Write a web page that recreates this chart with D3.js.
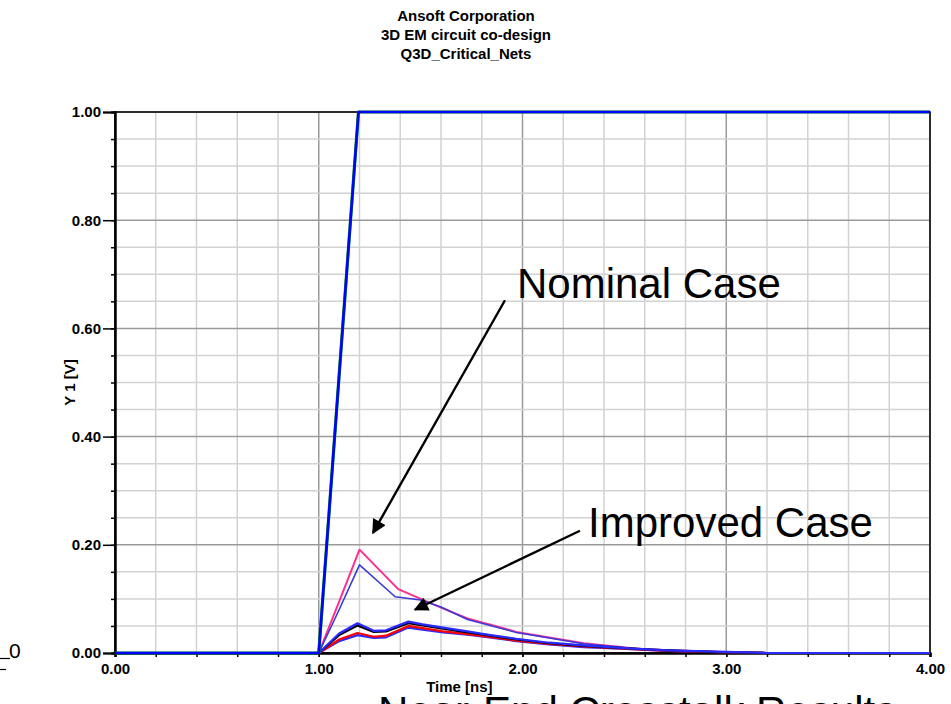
<!DOCTYPE html>
<html>
<head>
<meta charset="utf-8">
<script src="https://cdn.jsdelivr.net/npm/d3@7"></script>
<style>
  body { margin: 0; background: #fff; }
  svg { display: block; }
  .bold { font-family: "Liberation Sans Narrow", "Arial Narrow", "Liberation Sans", Arial, sans-serif; font-weight: bold; }
</style>
</head>
<body>
<svg id="chart" width="951" height="704"></svg>
<script>
// title lines
const titleLines = ["Ansoft Corporation", "3D EM circuit co-design", "Q3D_Critical_Nets"];

// axis ticks
const xTicks = [0, 1, 2, 3, 4];
const yTicks = [0, 0.2, 0.4, 0.6, 0.8, 1.0];

// input step (blue, with green trace under it)
const inputT = [0, 1.0, 1.195, 4.0];
const inputV = [0, 0, 1.0, 1.0];

// nominal case
const nomPinkT = [0, 1.0, 1.1, 1.2, 1.39, 1.6, 1.73, 1.97, 2.3, 2.59, 2.9, 3.2, 4.0];
const nomPinkV = [0, 0, 0.095, 0.191, 0.118, 0.084, 0.064, 0.039, 0.018, 0.007, 0.003, 0, 0];
const nomBlueT = [0, 1.0, 1.1, 1.2, 1.375, 1.5, 1.6, 1.73, 1.97, 2.3, 2.59, 2.9, 3.05, 4.0];
const nomBlueV = [0, 0, 0.08, 0.163, 0.104, 0.098, 0.085, 0.062, 0.038, 0.017, 0.007, 0.002, 0, 0];

// improved case
const impT = [0, 1.0, 1.1, 1.19, 1.27, 1.33, 1.44, 1.51, 1.61, 1.73, 1.81, 1.97, 2.13, 2.3, 2.54, 2.71, 3.0, 3.2, 4.0];
const impBlueHiV = [0, 0, 0.036, 0.055, 0.041, 0.042, 0.058, 0.053, 0.047, 0.040, 0.035, 0.026, 0.019, 0.014, 0.008, 0.005, 0.002, 0, 0];
const impBlackV  = [0, 0, 0.033, 0.051, 0.039, 0.040, 0.055, 0.051, 0.045, 0.038, 0.034, 0.025, 0.018, 0.013, 0.008, 0.005, 0.001, 0, 0];
const impRedV    = [0, 0, 0.025, 0.037, 0.030, 0.032, 0.050, 0.046, 0.040, 0.035, 0.031, 0.023, 0.017, 0.012, 0.007, 0.004, 0.001, 0, 0];
const impBlueLoV = [0, 0, 0.022, 0.033, 0.028, 0.029, 0.047, 0.043, 0.038, 0.034, 0.030, 0.022, 0.016, 0.011, 0.007, 0.004, 0.001, 0, 0];

// annotations (in data units)
const notes = [
  { text: "Nominal Case", t: 1.973, v: 0.657, from: [1.914, 0.652], to: [1.266, 0.222] },
  { text: "Improved Case", t: 2.322, v: 0.215, from: [2.282, 0.226], to: [1.472, 0.080] }
];

const svg = d3.select("#chart");
const pLeft = 115, pRight = 930, pTop = 112, pBottom = 653;

const x = d3.scaleLinear().domain([0, 4]).range([pLeft, pRight]);
const y = d3.scaleLinear().domain([0, 1]).range([pBottom, pTop]);

// title
svg.append("g").selectAll("text")
  .data(titleLines)
  .enter().append("text")
  .attr("class", "bold")
  .attr("x", 466)
  .attr("y", (d, i) => 21 + i * 19)
  .attr("text-anchor", "middle")
  .style("font-size", "15px")
  .text(d => d);

// grid
const minorX = d3.range(0, 4.001, 0.2);
const minorY = d3.range(0, 1.001, 0.05);
const grid = svg.append("g");
grid.selectAll(".vx")
  .data(minorX)
  .enter().append("line")
  .attr("x1", d => x(d)).attr("x2", d => x(d))
  .attr("y1", pTop).attr("y2", pBottom)
  .attr("stroke", d => Math.abs(d - Math.round(d)) < 1e-6 ? "#9a9a9a" : "#d2d2d2")
  .attr("stroke-width", 1.5);
grid.selectAll(".hy")
  .data(minorY)
  .enter().append("line")
  .attr("x1", pLeft).attr("x2", pRight)
  .attr("y1", d => y(d)).attr("y2", d => y(d))
  .attr("stroke", d => Math.abs(d * 5 - Math.round(d * 5)) < 1e-6 ? "#9a9a9a" : "#d2d2d2")
  .attr("stroke-width", 1.5);

// frame
svg.append("rect")
  .attr("x", pLeft).attr("y", pTop)
  .attr("width", pRight - pLeft).attr("height", pBottom - pTop)
  .attr("fill", "none").attr("stroke", "#000").attr("stroke-width", 1.5);

// axes
const yAxis = d3.axisLeft(y).tickValues(yTicks).tickFormat(d3.format(".2f")).tickSize(12).tickPadding(2);
const yMinor = d3.axisLeft(y).tickValues(minorY).tickFormat("").tickSize(4);
const xAxis = d3.axisBottom(x).tickValues(xTicks).tickFormat(d3.format(".2f")).tickSize(4).tickPadding(6);
const xMinor = d3.axisBottom(x).tickValues(minorX).tickFormat("").tickSize(4);

function styleAxis(g) {
  g.select(".domain").attr("stroke", "#000").attr("stroke-width", 2);
  g.selectAll(".tick line").attr("stroke", "#000").attr("stroke-width", 1.5);
  g.selectAll(".tick text").attr("class", "bold").style("font-size", "15px").attr("fill", "#000");
}
svg.append("g").attr("transform", `translate(${pLeft},0)`).call(yMinor).call(styleAxis);
svg.append("g").attr("transform", `translate(${pLeft},0)`).call(yAxis).call(styleAxis);
svg.append("g").attr("transform", `translate(0,${pBottom})`).call(xMinor).call(styleAxis);
svg.append("g").attr("transform", `translate(0,${pBottom})`).call(xAxis).call(styleAxis);

// axis titles
svg.append("text")
  .attr("class", "bold")
  .attr("transform", `translate(75,${(pTop + pBottom) / 2}) rotate(-90)`)
  .attr("text-anchor", "middle")
  .style("font-size", "15px")
  .text("Y 1  [V]");
svg.append("text")
  .attr("class", "bold")
  .attr("x", x(1.69)).attr("y", 692)
  .attr("text-anchor", "middle")
  .style("font-size", "15px")
  .text("Time [ns]");

// curves
const line = d3.line().x(d => x(d[0])).y(d => y(d[1]));
const series = [
  { t: nomPinkT, v: nomPinkV, color: "#ff2f8c", w: 2 },
  { t: nomBlueT, v: nomBlueV, color: "#3a3ad8", w: 1.6 },
  { t: impT, v: impBlueLoV, color: "#2a2aff", w: 2.2 },
  { t: impT, v: impRedV, color: "#ff0000", w: 2.2 },
  { t: impT, v: impBlackV, color: "#000000", w: 2.2 },
  { t: impT, v: impBlueHiV, color: "#2a2aff", w: 2.2 },
  { t: inputT, v: inputV, color: "#00a000", w: 3.2 },
  { t: inputT, v: inputV, color: "#0000ff", w: 2.6 }
];
svg.append("g").selectAll("path")
  .data(series)
  .enter().append("path")
  .attr("d", d => line(d.t.map((t, i) => [t, d.v[i]])))
  .attr("fill", "none")
  .attr("stroke", d => d.color)
  .attr("stroke-width", d => d.w)
  .attr("stroke-linejoin", "round");

// annotations
svg.append("defs").append("marker")
  .attr("id", "arrow")
  .attr("viewBox", "0 0 10 10")
  .attr("refX", 9).attr("refY", 5)
  .attr("markerWidth", 7).attr("markerHeight", 6)
  .attr("markerUnits", "strokeWidth")
  .attr("orient", "auto")
  .append("path").attr("d", "M0,0L10,5L0,10Z").attr("fill", "#000");

const ann = svg.append("g");
ann.selectAll("line")
  .data(notes)
  .enter().append("line")
  .attr("x1", d => x(d.from[0])).attr("y1", d => y(d.from[1]))
  .attr("x2", d => x(d.to[0])).attr("y2", d => y(d.to[1]))
  .attr("stroke", "#000").attr("stroke-width", 2.4)
  .attr("marker-end", "url(#arrow)");
ann.selectAll("text")
  .data(notes)
  .enter().append("text")
  .attr("x", d => x(d.t)).attr("y", d => y(d.v))
  .style("font-family", "'Liberation Sans', Arial, sans-serif")
  .style("font-size", "42px")
  .text(d => d.text);

// slide leftovers around the chart
svg.append("text")
  .attr("x", 9).attr("y", 658)
  .style("font-family", "'Liberation Sans', Arial, sans-serif")
  .style("font-size", "21px")
  .text("0");
svg.append("line").attr("x1", 0).attr("x2", 10).attr("y1", 658.5).attr("y2", 658.5)
  .attr("stroke", "#000").attr("stroke-width", 1.2);
svg.append("line").attr("x1", 0).attr("x2", 6).attr("y1", 669.5).attr("y2", 669.5)
  .attr("stroke", "#000").attr("stroke-width", 1.2);
svg.append("text")
  .attr("x", 378).attr("y", 726)
  .style("font-family", "'Liberation Sans', Arial, sans-serif")
  .style("font-size", "42px")
  .text("Near-End Crosstalk Results");
</script>
</body>
</html>
